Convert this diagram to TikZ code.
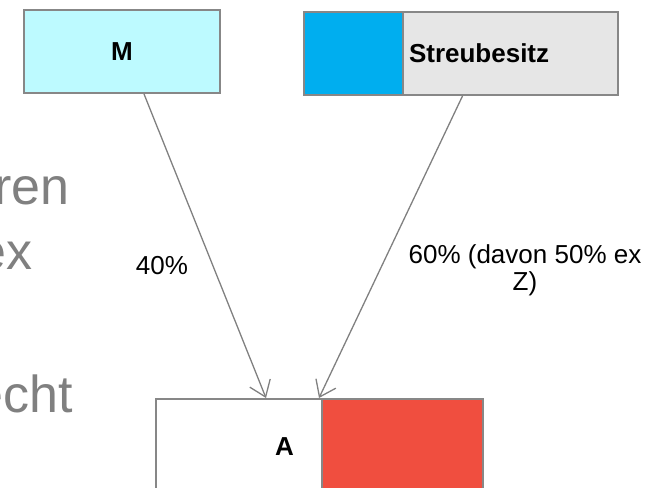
\documentclass[tikz,border=0pt]{standalone}
\usepackage{fontspec}
\setmainfont{Liberation Sans}
\usetikzlibrary{arrows.meta}

\definecolor{boxgray}{HTML}{878787}
\definecolor{linegray}{HTML}{808080}
\definecolor{slidegray}{HTML}{808080}
\definecolor{mcyan}{HTML}{BDFAFF}
\definecolor{sblue}{HTML}{00AEEF}
\definecolor{sgray}{HTML}{E6E6E6}
\definecolor{ared}{HTML}{F04E3F}

\tikzset{
  box/.style={draw=boxgray, line width=2pt, inner sep=0pt, anchor=north west,
              minimum height=83pt, font=\bfseries\fontsize{26}{30}\selectfont},
  flow/.style={draw=linegray, line width=1.3pt,
               -{Straight Barb[length=15pt,width=22pt]}},
  pct/.style={inner sep=0pt, font=\fontsize{26}{26.5}\selectfont},
  slide/.style={text=slidegray, inner sep=0pt, anchor=base east,
                font=\fontsize{52}{60}\selectfont}
}

\begin{document}
\begin{tikzpicture}[x=1pt, y=-1pt]
\useasboundingbox (0,0) rectangle (655,487);
\clip (0,0) rectangle (655,487);

% slide text behind the chart
\node[slide] (ren) at (70,204) {ren};
\node[slide] (ex) at (33,269) {ex};
\node[slide] (echt) at (73,412) {echt};

% owners
\node[box, fill=mcyan, minimum width=196pt] (m) at (23,9) {M};
\node[box, fill=sgray, minimum width=215pt, text width=203pt,
      inner xsep=6pt, align=left] (sgrey) at (402,11) {Streubesitz};
\node[box, fill=sblue, minimum width=99pt] (sblu) at (303,11) {};

% target
\node[box, fill=white, minimum height=96pt, text width=110pt,
      inner xsep=28pt, align=right] (awhite) at (155,398) {A};
\node[box, fill=ared, minimum width=161pt, minimum height=96pt] (ared) at (321,398) {};

% shares
\draw[flow] ([xshift=22pt]m.south) -- ([xshift=27pt]awhite.north);
\draw[flow] ([xshift=-48pt]sgrey.south) -- ([xshift=-2pt]ared.north west);

\node[pct, anchor=base] (l40) at (162,274) {40\%};
\node[pct, align=center] (l60) at (525,270.5) {60\% (davon 50\% ex\\Z)};
\end{tikzpicture}
\end{document}
